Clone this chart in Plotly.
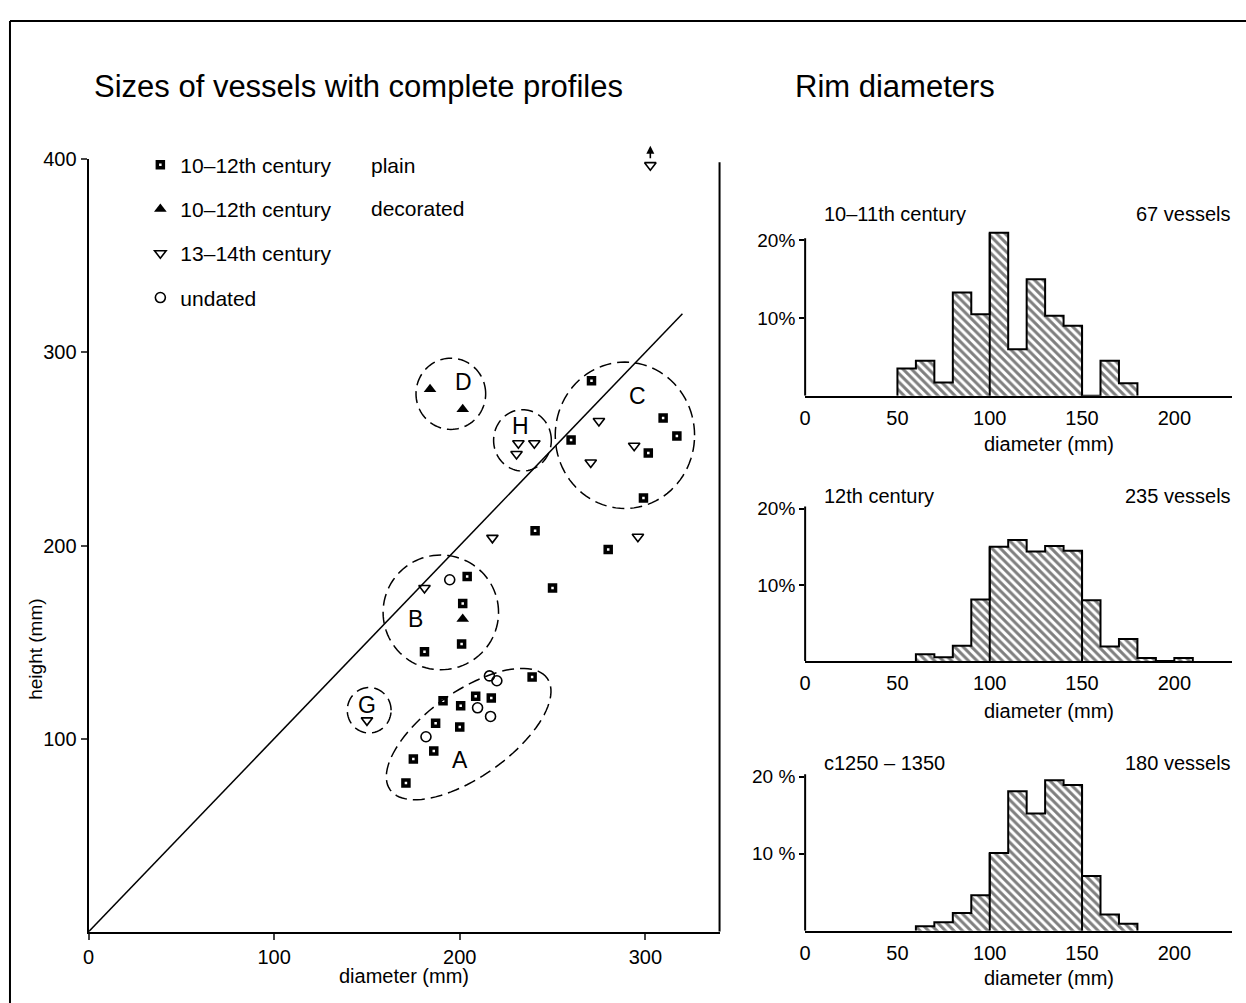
import numpy as np
import plotly.graph_objects as go

W, H = 1246, 1003
FONT = "Liberation Sans"

# ---------------- scatter data (diameter mm, height mm) ----------------
plain_d = [204.0, 201.6, 201.0, 181.0, 239.0, 208.6, 217.0, 191.0, 200.5, 187.0, 200.0, 186.0, 175.0, 171.0,
           250.0, 240.6, 280.0, 271.0, 309.6, 317.0, 260.0, 301.6, 299.0]
plain_h = [184.0, 170.0, 149.0, 145.0, 132.0, 122.0, 121.0, 119.7, 117.0, 108.0, 106.0, 93.6, 89.5, 77.0,
           178.0, 207.7, 198.0, 285.4, 266.0, 256.8, 254.7, 248.0, 224.6]
dec_d = [184.0, 201.6, 201.6]
dec_h = [281.0, 270.6, 162.0]
late_d = [181.0, 150.0, 231.6, 240.2, 230.6, 275.0, 294.0, 270.6, 217.6, 296.0, 302.7]
late_h = [178.0, 109.5, 253.0, 253.0, 247.4, 264.5, 251.7, 243.0, 204.0, 204.6, 397.0]
und_d = [194.6, 216.0, 220.0, 209.6, 216.6, 181.8]
und_h = [182.3, 132.5, 130.0, 116.0, 111.5, 101.0]

legend_names = ["10–12th century", "10–12th century", "13–14th century", "undated"]
legend_extra = ["plain", "decorated"]

# ---------------- histogram data (bin left edge mm, % of vessels) ----------------
h1_bins = [50, 60, 70, 80, 90, 100, 110, 120, 130, 140, 150, 160, 170]
h1_pct = [3.5, 4.5, 1.7, 13.3, 10.5, 21.0, 6.0, 15.0, 10.3, 9.0, 0.0, 4.5, 1.6]
h2_bins = [60, 70, 80, 90, 100, 110, 120, 130, 140, 150, 160, 170, 180, 190, 200]
h2_pct = [0.9, 0.5, 2.0, 8.1, 15.0, 15.9, 14.4, 15.1, 14.5, 8.0, 1.9, 2.9, 0.4, 0.0, 0.4]
h3_bins = [60, 70, 80, 90, 100, 110, 120, 130, 140, 150, 160, 170]
h3_pct = [0.6, 1.1, 2.3, 4.6, 10.1, 18.1, 15.2, 19.5, 18.9, 7.1, 2.1, 0.9]

hist_titles = ["10–11th century", "12th century", "c1250 – 1350"]
hist_counts = ["67 vessels", "235 vessels", "180 vessels"]
hist_pct_labels = [["10%", "20%"], ["10%", "20%"], ["10 %", "20 %"]]
hist_ticks = [0, 50, 100, 150, 200]
scatter_xticks = [0, 100, 200, 300]
scatter_yticks = [100, 200, 300, 400]

BIN = 10

# ---------------- layout geometry (pixels) ----------------
def px_x(p):
    return p / W

def px_y(p):
    return 1 - p / H

SX0, SX1, SY0, SY1 = 83, 717, 931, 150
XMAX, YMAXS = 340.0, 400.0
KX = (SX1 - SX0) / XMAX   # px per mm, scatter x
KY = (SY0 - SY1) / YMAXS  # px per mm, scatter y

def data_to_paper(xv, yv):
    return px_x(SX0 + xv * KX), px_y(SY0 - yv * KY)

fig = go.Figure()

# scatter traces
fig.add_trace(go.Scatter(x=plain_d, y=plain_h, mode="markers", name=legend_names[0], legendgroup="a",
                         marker=dict(symbol="square-open", size=6, color="black", line=dict(width=3.5, color="black"))))
fig.add_trace(go.Scatter(x=dec_d, y=dec_h, mode="markers", name=legend_names[1], legendgroup="b",
                         marker=dict(symbol="triangle-up", size=11, color="black", line=dict(width=0))))
fig.add_trace(go.Scatter(x=late_d, y=late_h, mode="markers", name=legend_names[2], legendgroup="c",
                         marker=dict(symbol="triangle-down-open", size=10, color="black", line=dict(width=1.6, color="black"))))
fig.add_trace(go.Scatter(x=und_d, y=und_h, mode="markers", name=legend_names[3], legendgroup="d",
                         marker=dict(symbol="circle-open", size=10, color="black", line=dict(width=1.6, color="black"))))

shapes = []
annotations = []

def text_ann(x, y, text, size, xanchor="left", ref="paper", angle=0):
    return dict(x=x, y=y, xref=ref if ref == "paper" else "x", yref=ref if ref == "paper" else "y",
                xanchor=xanchor, yanchor="middle", text=text, showarrow=False, textangle=angle,
                font=dict(family=FONT, size=size, color="black"))

# diagonal reference line height = diameter
shapes.append(dict(type="line", xref="x", yref="y", x0=0, y0=0, x1=320, y1=320,
                   line=dict(color="black", width=1.5)))
# right frame of scatter
shapes.append(dict(type="line", xref="x domain", yref="y", x0=1, x1=1, y0=0, y1=398.5,
                   line=dict(color="black", width=2)))

# group outlines: (label, cx, cy, a_px, b_px, angle_deg, label_x, label_y)
groups = [
    ("A", 204.8, 102.4, 97, 43, 35.6, 200.0, 89.0),
    ("B", 189.8, 165.4, 58, 58, 0, 176.4, 161.8),
    ("C", 289.0, 257.1, 70, 74, 0, 296.0, 277.6),
    ("D", 195.2, 278.6, 35, 36, 0, 202.0, 284.8),
    ("G", 151.2, 114.7, 22, 23, 0, 150.0, 117.3),
    ("H", 233.8, 254.5, 29, 31, 0, 233.0, 261.7),
]
t = np.linspace(0, 2 * np.pi, 97)
for lab, cx, cy, a, b, ang, lx, ly in groups:
    th = np.deg2rad(ang)
    ex = a * np.cos(t) * np.cos(th) - b * np.sin(t) * np.sin(th)
    ey = a * np.cos(t) * np.sin(th) + b * np.sin(t) * np.cos(th)
    xs = cx + ex / KX
    ys = cy + ey / KY
    path = "M " + " L ".join(f"{x:.2f},{y:.2f}" for x, y in zip(xs, ys)) + " Z"
    shapes.append(dict(type="path", xref="x", yref="y", path=path,
                       line=dict(color="black", width=1.5, dash="12px,6px")))
    annotations.append(text_ann(lx, ly, lab, 23, xanchor="center", ref="data"))

# off-scale arrow above the tallest vessel (paper coordinates so it is not hidden)
ax_p, ay_p = data_to_paper(late_d[-1], 407)
annotations.append(dict(x=ax_p, y=ay_p, xref="paper", yref="paper", ax=0, ay=14, text="",
                        showarrow=True, arrowhead=2, arrowsize=1, arrowwidth=1.6, arrowcolor="black"))

# legend second column
annotations.append(text_ann(px_x(365), px_y(156), legend_extra[0], 21))
annotations.append(text_ann(px_x(365), px_y(200), legend_extra[1], 21))

# titles
annotations.append(text_ann(px_x(86), px_y(76), "Sizes of vessels with complete profiles", 31))
annotations.append(text_ann(px_x(791), px_y(76), "Rim diameters", 31))
# scatter axis titles
annotations.append(text_ann(px_x(400), px_y(976), "diameter (mm)", 20, xanchor="center"))
annotations.append(text_ann(px_x(30), px_y(645), "height (mm)", 19, xanchor="center", angle=-90))

# frame of the whole figure
shapes.append(dict(type="line", xref="paper", yref="paper", x0=px_x(4), x1=px_x(4), y0=0, y1=px_y(10),
                   line=dict(color="black", width=2)))
shapes.append(dict(type="line", xref="paper", yref="paper", x0=px_x(4), x1=1, y0=px_y(10), y1=px_y(10),
                   line=dict(color="black", width=2)))

layout_axes = {}
layout_axes["xaxis"] = dict(domain=[px_x(SX0), px_x(SX1)], range=[0, XMAX], tickvals=scatter_xticks,
                            ticks="outside", ticklen=6, tickwidth=1.5, showline=True, linewidth=2,
                            linecolor="black", showgrid=False, zeroline=False,
                            tickfont=dict(family=FONT, size=20, color="black"), anchor="y")
layout_axes["yaxis"] = dict(domain=[px_y(SY0), px_y(SY1)], range=[0, YMAXS], tickvals=scatter_yticks,
                            ticks="outside", ticklen=6, tickwidth=1.5, showline=True, linewidth=2,
                            linecolor="black", showgrid=False, zeroline=False,
                            tickfont=dict(family=FONT, size=20, color="black"), anchor="x")

# histograms: (baseline px, px per %, title y px, xlabel y px)
hist_geom = [(389, 7.85, 205, 438), (657.3, 7.7, 490, 708), (930, 7.8, 760, 978)]
hist_data = [(h1_bins, h1_pct), (h2_bins, h2_pct), (h3_bins, h3_pct)]
HX0, HX1 = 803, 1232
HXMAX = (HX1 - HX0) / ((1174 - 803) / 200.0)
YMAX = 21.5

for i, ((bins, pct), (base, kpp, ty, xly)) in enumerate(zip(hist_data, hist_geom)):
    n = i + 2
    xa, ya = f"x{n}", f"y{n}"
    top = base - YMAX * kpp
    layout_axes[f"xaxis{n}"] = dict(domain=[px_x(HX0), px_x(HX1)], range=[0, HXMAX], tickvals=hist_ticks,
                                    ticks="", showline=True, linewidth=2, linecolor="black", showgrid=False,
                                    zeroline=False, anchor=ya, ticklabelstandoff=3,
                                    tickfont=dict(family=FONT, size=20, color="black"))
    layout_axes[f"yaxis{n}"] = dict(domain=[px_y(base), px_y(top)], range=[0, YMAX], tickvals=[10, 20],
                                    ticktext=hist_pct_labels[i], ticks="outside", ticklen=5, tickwidth=1.5,
                                    tickcolor="black", showline=False, showgrid=False, zeroline=False, anchor=xa,
                                    tickfont=dict(family=FONT, size=19, color="black"))
    centers = [b + BIN / 2 for b in bins]
    fig.add_trace(go.Bar(x=centers, y=pct, width=BIN, xaxis=xa, yaxis=ya, showlegend=False,
                         marker=dict(color="white", line=dict(width=0),
                                     pattern=dict(shape="\\", fgcolor="black", bgcolor="white", size=6,
                                                  solidity=0.5))))
    # step outline of the histogram
    sx, sy = [bins[0]], [0]
    for b, v in zip(bins, pct):
        sx += [b, b + BIN]
        sy += [v, v]
    sx.append(bins[-1] + BIN)
    sy.append(0)
    fig.add_trace(go.Scatter(x=sx, y=sy, mode="lines", xaxis=xa, yaxis=ya, showlegend=False,
                             line=dict(color="black", width=2)))
    # full-height dividers at 100 mm and 150 mm
    vx, vy = [], []
    lookup = dict(zip(bins, pct))
    for e in (100, 150):
        hgt = max(lookup.get(e - BIN, 0), lookup.get(e, 0))
        vx += [e, e, None]
        vy += [0, hgt, None]
    fig.add_trace(go.Scatter(x=vx, y=vy, mode="lines", xaxis=xa, yaxis=ya, showlegend=False,
                             line=dict(color="black", width=2)))
    # y axis line up to 20 %
    shapes.append(dict(type="line", xref=f"{xa} domain", yref=ya, x0=0, x1=0, y0=0, y1=20.3,
                       line=dict(color="black", width=2)))
    annotations.append(text_ann(px_x(820), px_y(ty), hist_titles[i], 20))
    annotations.append(text_ann(px_x(1233), px_y(ty), hist_counts[i], 20, xanchor="right"))
    annotations.append(text_ann(px_x(1048), px_y(xly), "diameter (mm)", 20, xanchor="center"))

fig.update_layout(
    width=W, height=H, margin=dict(l=0, r=0, t=0, b=0),
    paper_bgcolor="white", plot_bgcolor="white",
    font=dict(family=FONT, color="black"),
    barmode="overlay", bargap=0,
    shapes=shapes, annotations=annotations,
    showlegend=True,
    legend=dict(x=px_x(135), y=px_y(135), xanchor="left", yanchor="top", bgcolor="rgba(0,0,0,0)",
                font=dict(family=FONT, size=21, color="black"), tracegroupgap=14, itemsizing="trace"),
    **layout_axes,
)

fig.write_html("out.html")
